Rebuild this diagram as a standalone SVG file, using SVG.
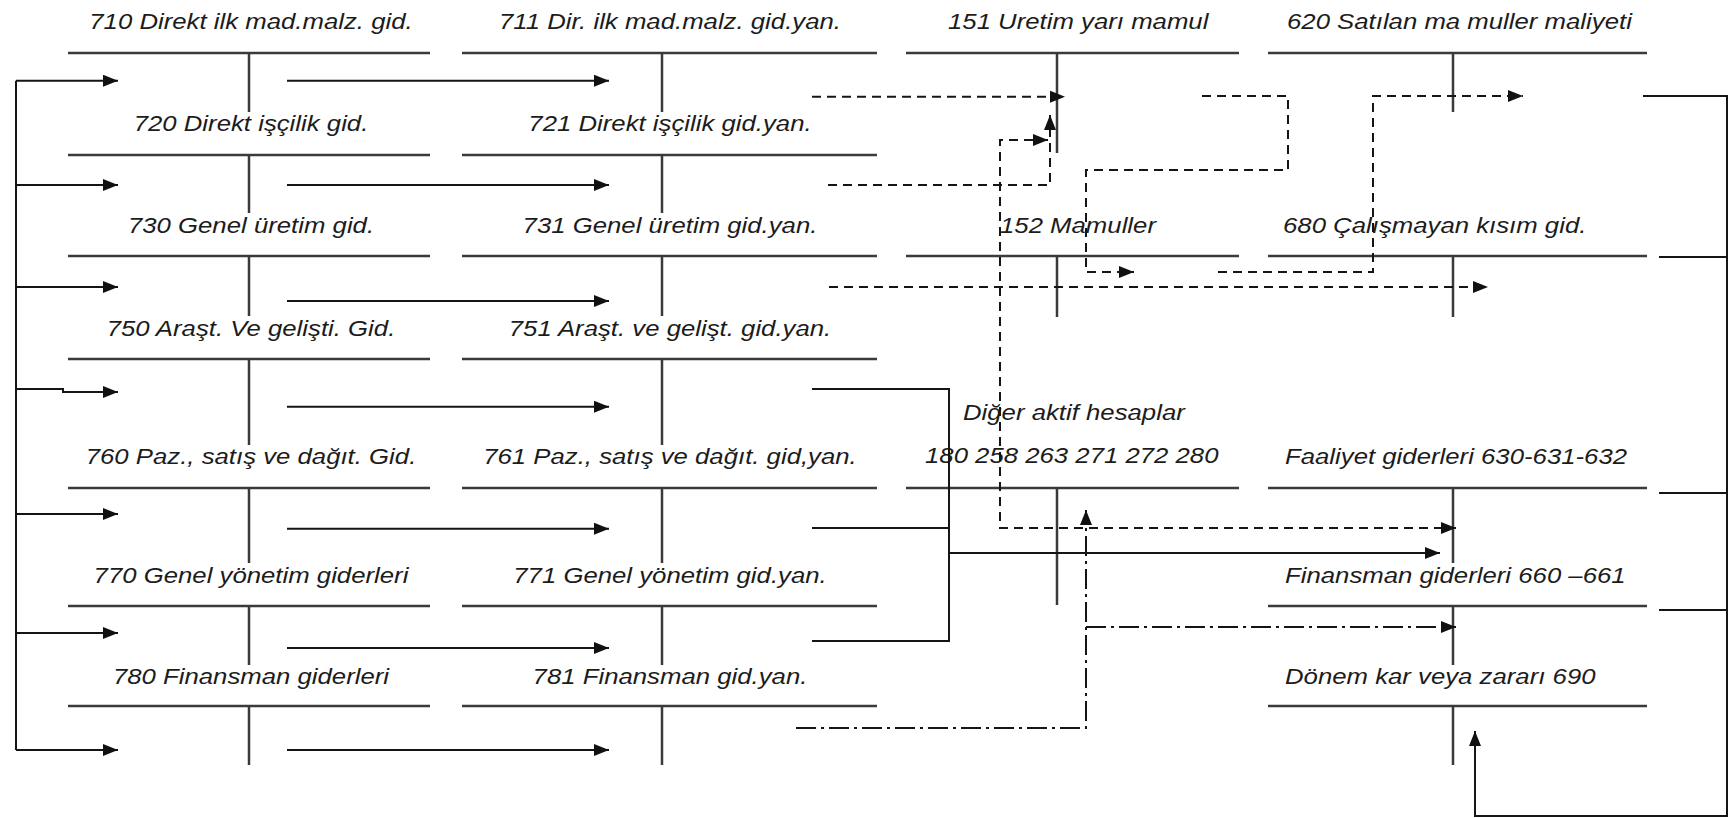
<svg xmlns="http://www.w3.org/2000/svg" width="1729" height="818" viewBox="0 0 1729 818">
<style>
.bg{fill:#ffffff}
.t{font-family:"Liberation Sans",Arial,sans-serif;font-style:italic;font-size:23px;fill:#1c1c1c}
.m{text-anchor:middle}
.acc{stroke:#3a3a3a;stroke-width:2.5;fill:none}
.sol{stroke:#151515;stroke-width:2;fill:none}
.dash{stroke:#151515;stroke-width:2;fill:none;stroke-dasharray:9 6}
.dd{stroke:#151515;stroke-width:2;fill:none;stroke-dasharray:20 5 3 5}
.ar{marker-end:url(#ah)}
</style>
<defs>
<marker id="ah" markerUnits="userSpaceOnUse" markerWidth="15" markerHeight="12" refX="15" refY="6" orient="auto">
<path d="M0,0 L15,6 L0,12 z" fill="#111"/>
</marker>
<marker id="ahs" markerUnits="userSpaceOnUse" markerWidth="15" markerHeight="12" refX="15" refY="6" orient="auto-start-reverse">
<path d="M0,0 L15,6 L0,12 z" fill="#111"/>
</marker>
</defs>
<rect class="bg" x="0" y="0" width="1729" height="818"/>

<!-- Column 1 -->
<g id="a710"><path class="acc" d="M68,53 H430 M249,53 V112"/><text class="t m" x="224.11" y="29" transform="scale(1.12 1)">710 Direkt ilk mad.malz. gid.</text></g>
<g id="a720"><path class="acc" d="M68,155 H430 M249,155 V213"/><text class="t m" x="224.11" y="131" transform="scale(1.12 1)">720 Direkt işçilik gid.</text></g>
<g id="a730"><path class="acc" d="M68,256 H430 M249,256 V316"/><text class="t m" x="224.11" y="233" transform="scale(1.12 1)">730 Genel üretim gid.</text></g>
<g id="a750"><path class="acc" d="M68,359 H430 M249,359 V445"/><text class="t m" x="224.11" y="336" transform="scale(1.12 1)">750 Araşt. Ve gelişti. Gid.</text></g>
<g id="a760"><path class="acc" d="M68,488 H430 M249,488 V563"/><text class="t m" x="224.11" y="464" transform="scale(1.12 1)">760 Paz., satış ve dağıt. Gid.</text></g>
<g id="a770"><path class="acc" d="M68,606 H430 M249,606 V665"/><text class="t m" x="224.11" y="583" transform="scale(1.12 1)">770 Genel yönetim giderleri</text></g>
<g id="a780"><path class="acc" d="M68,706 H430 M249,706 V765"/><text class="t m" x="224.11" y="684" transform="scale(1.12 1)">780 Finansman giderleri</text></g>

<!-- Column 2 -->
<g id="a711"><path class="acc" d="M462,53 H877 M662,53 V112"/><text class="t m" x="598.21" y="29" transform="scale(1.12 1)">711 Dir. ilk mad.malz. gid.yan.</text></g>
<g id="a721"><path class="acc" d="M462,155 H877 M662,155 V213"/><text class="t m" x="598.21" y="131" transform="scale(1.12 1)">721 Direkt işçilik gid.yan.</text></g>
<g id="a731"><path class="acc" d="M462,256 H877 M662,256 V316"/><text class="t m" x="598.21" y="233" transform="scale(1.12 1)">731 Genel üretim gid.yan.</text></g>
<g id="a751"><path class="acc" d="M462,359 H877 M662,359 V445"/><text class="t m" x="598.21" y="336" transform="scale(1.12 1)">751 Araşt. ve gelişt. gid.yan.</text></g>
<g id="a761"><path class="acc" d="M462,488 H877 M662,488 V563"/><text class="t m" x="598.21" y="464" transform="scale(1.12 1)">761 Paz., satış ve dağıt. gid,yan.</text></g>
<g id="a771"><path class="acc" d="M462,606 H877 M662,606 V665"/><text class="t m" x="598.21" y="583" transform="scale(1.12 1)">771 Genel yönetim gid.yan.</text></g>
<g id="a781"><path class="acc" d="M462,706 H877 M662,706 V765"/><text class="t m" x="598.21" y="684" transform="scale(1.12 1)">781 Finansman gid.yan.</text></g>

<!-- Column 3 -->
<g id="a151"><path class="acc" d="M906,53 H1239 M1057,53 V153"/><text class="t" x="846.43" y="29" transform="scale(1.12 1)">151 Uretim yarı mamul</text></g>
<g id="a152"><path class="acc" d="M906,256 H1239 M1057,256 V317"/><text class="t" x="892.86" y="233" transform="scale(1.12 1)">152 Mamuller</text></g>
<g id="a180"><path class="acc" d="M906,488 H1239 M1057,488 V605"/><text class="t" x="859.82" y="420" transform="scale(1.12 1)">Diğer aktif hesaplar</text><text class="t" x="825.89" y="463" transform="scale(1.12 1)">180 258 263 271 272 280</text></g>

<!-- Column 4 -->
<g id="a620"><path class="acc" d="M1268,53 H1647 M1453,53 V112"/><text class="t" x="1149.11" y="29" transform="scale(1.12 1)">620 Satılan ma muller maliyeti</text></g>
<g id="a680"><path class="acc" d="M1268,256 H1647 M1453,256 V317"/><text class="t" x="1145.54" y="233" transform="scale(1.12 1)">680 Çalışmayan kısım gid.</text></g>
<g id="a630"><path class="acc" d="M1268,488 H1647 M1453,488 V563"/><text class="t" x="1147.32" y="464" transform="scale(1.12 1)">Faaliyet giderleri 630-631-632</text></g>
<g id="a660"><path class="acc" d="M1268,606 H1647 M1453,606 V665"/><text class="t" x="1147.32" y="583" transform="scale(1.12 1)">Finansman giderleri 660 –661</text></g>
<g id="a690"><path class="acc" d="M1268,706 H1647 M1453,706 V765"/><text class="t" x="1147.32" y="684" transform="scale(1.12 1)">Dönem kar veya zararı 690</text></g>

<!-- Connectors -->
<g id="connectors">
<path class="sol" d="M16,80.7 V750"/>
<path class="sol ar" d="M16,80.7 H118"/>
<path class="sol ar" d="M16,185 H118"/>
<path class="sol ar" d="M16,287 H118"/>
<path class="sol ar" d="M16,389 H63 V392 H118"/>
<path class="sol ar" d="M16,514 H118"/>
<path class="sol ar" d="M16,633 H118"/>
<path class="sol ar" d="M16,750 H118"/>

<path class="sol ar" d="M287,80.7 H609"/>
<path class="sol ar" d="M287,185 H609"/>
<path class="sol ar" d="M287,301 H609"/>
<path class="sol ar" d="M287,406.7 H609"/>
<path class="sol ar" d="M287,528.7 H609"/>
<path class="sol ar" d="M287,648 H609"/>
<path class="sol ar" d="M287,750 H609"/>

<path class="dash ar" d="M812,96.7 H1065"/>
<path class="dash ar" d="M828,185 H1050 V115"/>
<path class="dash ar" d="M829,287 H1488"/>
<path class="dash ar" d="M1048,140 H1000 V528 H1456" marker-start="url(#ahs)"/>
<path class="dash ar" d="M1202,96 H1288 V170 H1086 V272 H1134"/>
<path class="dash ar" d="M1218,272 H1373 V96 H1523"/>

<path class="sol" d="M812,389 H949 V641 H812"/>
<path class="sol" d="M812,528 H949"/>
<path class="sol ar" d="M949,553 H1440"/>

<path class="dd ar" d="M796,728 H1086 V510"/>
<path class="dd ar" d="M1086,627 H1456"/>

<path class="sol ar" d="M1643,96 H1727 V816 H1475 V731"/>
<path class="sol" d="M1659,257 H1727"/>
<path class="sol" d="M1659,493 H1727"/>
<path class="sol" d="M1659,610 H1727"/>
</g>
</svg>
